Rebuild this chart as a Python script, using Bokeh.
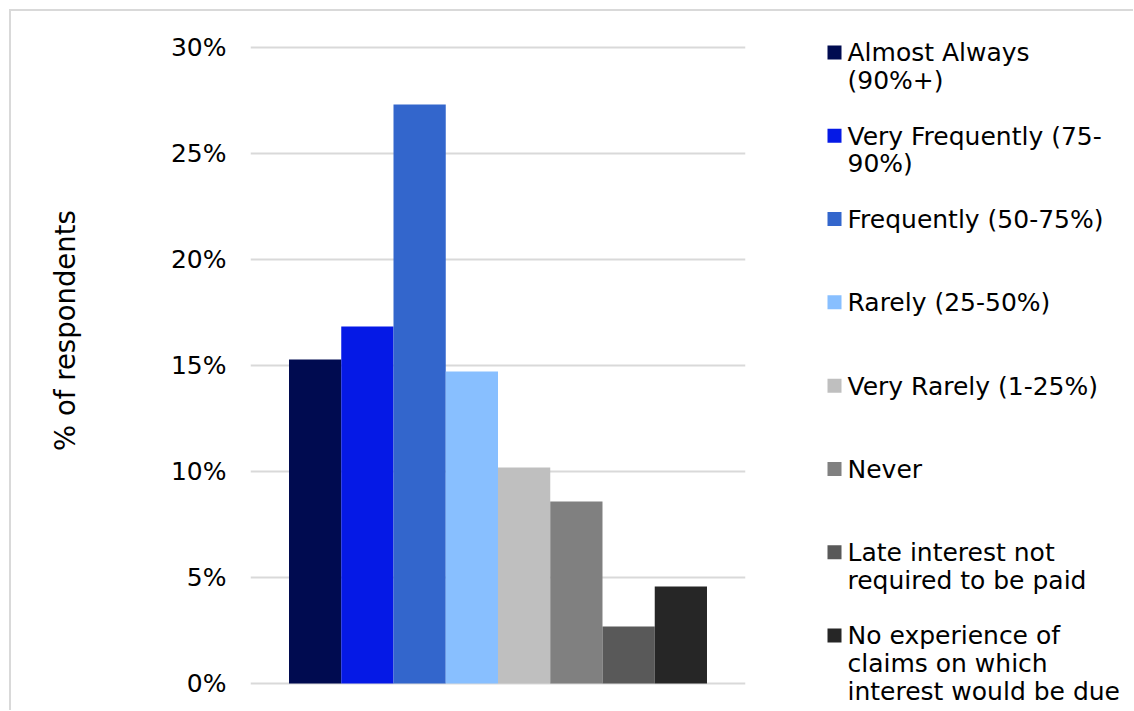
from bokeh.plotting import figure
from bokeh.models import Range1d, NumeralTickFormatter, FixedTicker, ColumnDataSource
from bokeh.layouts import row
from bokeh.core.properties import value
from bokeh.embed import file_html
from bokeh.resources import INLINE

# ---- data ----
categories = [
    "Almost Always\n(90%+)",
    "Very Frequently (75-\n90%)",
    "Frequently (50-75%)",
    "Rarely (25-50%)",
    "Very Rarely (1-25%)",
    "Never",
    "Late interest not\nrequired to be paid",
    "No experience of\nclaims on which\ninterest would be due",
]
shares = [0.1528, 0.1684, 0.2731, 0.1472, 0.1019, 0.0858, 0.0269, 0.0458]
colors = ["#000b50", "#0519e6", "#3366cc", "#88bfff", "#bfbfbf", "#808080", "#595959", "#262626"]
y_ticks = [0, 0.05, 0.10, 0.15, 0.20, 0.25, 0.30]
y_title = "% of respondents"

FONT = "DejaVu Sans"
idx = list(range(len(shares)))

src = ColumnDataSource(dict(x=idx, top=shares, color=colors, label=categories))

H = 699

# ---- main chart ----
pad = 2 * 0.30 / 636
p = figure(width=789, height=H, output_backend="svg", toolbar_location=None,
           x_range=Range1d(-1.237, 8.237), y_range=Range1d(-pad, 0.30 + pad),
           min_border_left=239, min_border_right=55, min_border_top=34, min_border_bottom=H - 34 - 640,
           outline_line_color=None)
p.frame_align = False
p.vbar(x="x", top="top", width=1.0, color="color", line_color=None, source=src)

p.xaxis.visible = False
p.xgrid.visible = False
p.ygrid.grid_line_color = "#d9d9d9"
p.ygrid.grid_line_width = 2
p.yaxis.ticker = FixedTicker(ticks=y_ticks)
p.yaxis.formatter = NumeralTickFormatter(format="0%")
p.yaxis.axis_line_color = None
p.yaxis.major_tick_line_color = None
p.yaxis.minor_tick_line_color = None
p.yaxis.major_tick_out = 0
p.yaxis.major_tick_in = 0
p.yaxis.major_label_standoff = 24
p.yaxis.major_label_text_font = FONT
p.yaxis.major_label_text_font_size = "25px"
p.yaxis.major_label_text_color = "#000000"
# leading no-break spaces lift the title a little above the plot-area centre
p.yaxis.axis_label = "\u00a0" * 8 + y_title
p.yaxis.axis_label_text_font = FONT
p.yaxis.axis_label_text_font_size = "27.5px"
p.yaxis.axis_label_text_font_style = "normal"
p.yaxis.axis_label_text_color = "#000000"
p.yaxis.axis_label_standoff = 87

# ---- legend panel ----
step = 83.29
first = 41
LW = 333
leg = figure(width=LW, height=H, output_backend="svg", toolbar_location=None,
             x_range=Range1d(0, LW),
             y_range=Range1d((H - first) / step, -first / step),
             min_border=0, outline_line_color=None,
             x_axis_type=None, y_axis_type=None)
leg.frame_align = False
leg.grid.visible = False
leg_src = ColumnDataSource(dict(
    y=idx, ty=[i - 0.17 for i in idx], color=colors, label=categories,
    sx=[34] * len(idx), tx=[47] * len(idx)))
leg.scatter(x="sx", y="y", marker="square", size=14, color="color", line_color=None, source=leg_src)
leg.text(x="tx", y="ty", text="label", source=leg_src, text_font=value(FONT),
         text_font_size="25px", text_color="#000000", text_baseline="top",
         text_align="left", text_line_height=0.96)

layout = row(p, leg, margin=(9, 0, 0, 9),
             styles={"border-left": "2px solid #d9d9d9", "border-top": "2px solid #d9d9d9"})

open("out.html", "w").write(file_html(layout, INLINE))
